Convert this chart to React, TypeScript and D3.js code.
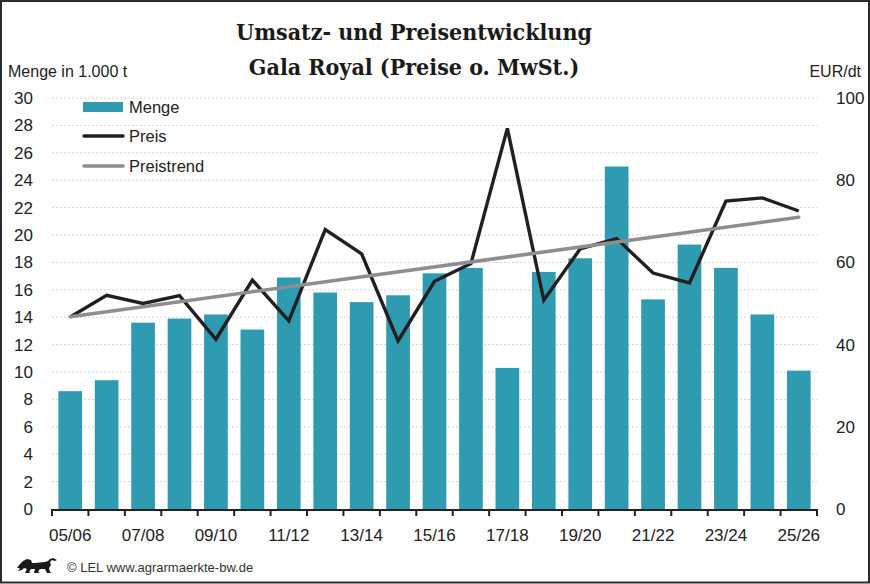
import * as d3 from 'd3';

const categories = [
  '05/06', '06/07', '07/08', '08/09', '09/10', '10/11', '11/12', '12/13', '13/14', '14/15', '15/16',
  '16/17', '17/18', '18/19', '19/20', '20/21', '21/22', '22/23', '23/24', '24/25', '25/26',
];
const tickLabels = ['05/06', '07/08', '09/10', '11/12', '13/14', '15/16', '17/18', '19/20', '21/22', '23/24', '25/26'];

// Menge in 1.000 t
const menge = [8.6, 9.4, 13.6, 13.9, 14.2, 13.1, 16.9, 15.8, 15.1, 15.6, 17.2, 17.6, 10.3, 17.3, 18.3, 25.0, 15.3, 19.3, 17.6, 14.2, 10.1];
// Preis in EUR/dt
const preis = [46.7, 52.0, 50.0, 51.9, 41.3, 55.7, 45.8, 68.0, 62.1, 40.9, 55.4, 59.7, 92.6, 50.8, 63.3, 65.8, 57.4, 55.0, 74.9, 75.7, 72.5];
// linearer Preistrend, Start- und Endwert
const trend = [
  { cat: '05/06', value: 46.8 },
  { cat: '25/26', value: 71.0 },
];

const leftTicks = [0, 2, 4, 6, 8, 10, 12, 14, 16, 18, 20, 22, 24, 26, 28, 30];
const rightTicks = [0, 20, 40, 60, 80, 100];

const W = 870;
const H = 584;
const margin = { left: 52, right: 53, top: 98, bottom: 75 };

const sans = 'Liberation Sans, Arial, sans-serif';

export default function App() {
  const x = d3.scaleBand<string>()
    .domain(categories)
    .range([margin.left, W - margin.right])
    .paddingInner(0.35)
    .paddingOuter(0.175);
  const band = d3.scaleBand<string>().domain(categories).range([margin.left, W - margin.right]);
  const yL = d3.scaleLinear().domain([0, 30]).range([H - margin.bottom, margin.top]);
  const yR = d3.scaleLinear().domain([0, 100]).range([H - margin.bottom, margin.top]);
  const cx = (c: string) => band(c)! + band.bandwidth() / 2;

  const priceLine = d3.line<number>()
    .x((_, i) => cx(categories[i]))
    .y(d => yR(d));
  const trendLine = d3.line<{ cat: string; value: number }>()
    .x(d => cx(d.cat))
    .y(d => yR(d.value));

  const y0 = yL(0);
  const boundaries = categories.map(c => band(c)!).concat([band.range()[1]]);

  return (
    <div style={{ position: 'absolute', left: 0, top: 0 }}>
      <svg width={W} height={H} style={{ display: 'block', background: '#fff' }}>
        <rect x={1} y={1} width={W - 2} height={H - 2.5} fill="#fff" stroke="#2b2b2b" strokeWidth={2} />

        {/* Titel */}
        <text x={414} y={40} textAnchor="middle" fontFamily="DejaVu Serif Condensed, DejaVu Serif, serif" fontWeight="bold" fontSize={23} fill="#1a1a1a">
          Umsatz- und Preisentwicklung
        </text>
        <text x={414} y={75} textAnchor="middle" fontFamily="DejaVu Serif Condensed, DejaVu Serif, serif" fontWeight="bold" fontSize={23} fill="#1a1a1a">
          Gala Royal (Preise o. MwSt.)
        </text>

        <text x={8} y={77} fontFamily={sans} fontSize={16} fill="#222">Menge in 1.000 t</text>
        <text x={861} y={77} textAnchor="end" fontFamily={sans} fontSize={16} fill="#222">EUR/dt</text>

        {/* Gitternetz */}
        {leftTicks.filter(t => t > 0).map(t => (
          <line key={t} x1={margin.left} x2={W - margin.right} y1={yL(t)} y2={yL(t)} stroke="#d4d4d4" strokeWidth={1} strokeDasharray="2,2" />
        ))}

        {/* Balken */}
        {categories.map((c, i) => (
          <rect key={c} x={x(c)} y={yL(menge[i])} width={x.bandwidth()} height={y0 - yL(menge[i])} fill="#2f9bb0" />
        ))}

        {/* Linien */}
        <path d={priceLine(preis) ?? ''} fill="none" stroke="#231f20" strokeWidth={3.4} strokeLinejoin="miter" />
        <path d={trendLine(trend) ?? ''} fill="none" stroke="#8e8e8e" strokeWidth={3.5} strokeLinecap="round" />

        {/* x-Achse */}
        <line x1={margin.left} x2={W - margin.right} y1={y0 + 1} y2={y0 + 1} stroke="#222" strokeWidth={2} />
        {boundaries.map((b, i) => (
          <line key={i} x1={b} x2={b} y1={y0} y2={y0 + 7} stroke="#222" strokeWidth={2} />
        ))}
        {tickLabels.map(t => (
          <text key={t} x={cx(t)} y={541} textAnchor="middle" fontFamily={sans} fontSize={17} fill="#222">{t}</text>
        ))}

        {/* y-Achsen */}
        {leftTicks.map(t => (
          <text key={t} x={33} y={yL(t) + 6} textAnchor="end" fontFamily={sans} fontSize={17} fill="#222">{t}</text>
        ))}
        {rightTicks.map(t => (
          <text key={t} x={836} y={yR(t) + 6} fontFamily={sans} fontSize={17} fill="#222">{t}</text>
        ))}

        {/* Legende */}
        <rect x={83} y={102} width={40} height={10} fill="#2f9bb0" />
        <text x={129} y={113} fontFamily={sans} fontSize={16.5} fill="#222">Menge</text>
        <line x1={84} x2={123} y1={136} y2={136} stroke="#231f20" strokeWidth={3.5} strokeLinecap="round" />
        <text x={129} y={142} fontFamily={sans} fontSize={16.5} fill="#222">Preis</text>
        <line x1={84} x2={123} y1={166} y2={166} stroke="#8e8e8e" strokeWidth={3.5} strokeLinecap="round" />
        <text x={129} y={172} fontFamily={sans} fontSize={16.5} fill="#222">Preistrend</text>

        {/* Fußzeile */}
        <g transform="translate(17,558)" fill="#1a1a1a">
          <path d="M0,10 L3,6 L6,3 L10,1 L14,2 L15,5 L18,5 L28,4 L31,3 L33,1 L36,0 L40,2 L38,3 L35,2 L33,4 L34,7 L32,10 L33,14 L35,15 L30,15 L28,11 L23,11 L21,14 L23,15 L17,15 L18,11 L14,11 L12,14 L14,15 L8,15 L10,11 L7,10 L5,12 L1,13 L3,10 Z" />
        </g>
        <text x={67} y={572} fontFamily={sans} fontSize={13} fill="#333">© LEL www.agrarmaerkte-bw.de</text>
      </svg>
    </div>
  );
}
